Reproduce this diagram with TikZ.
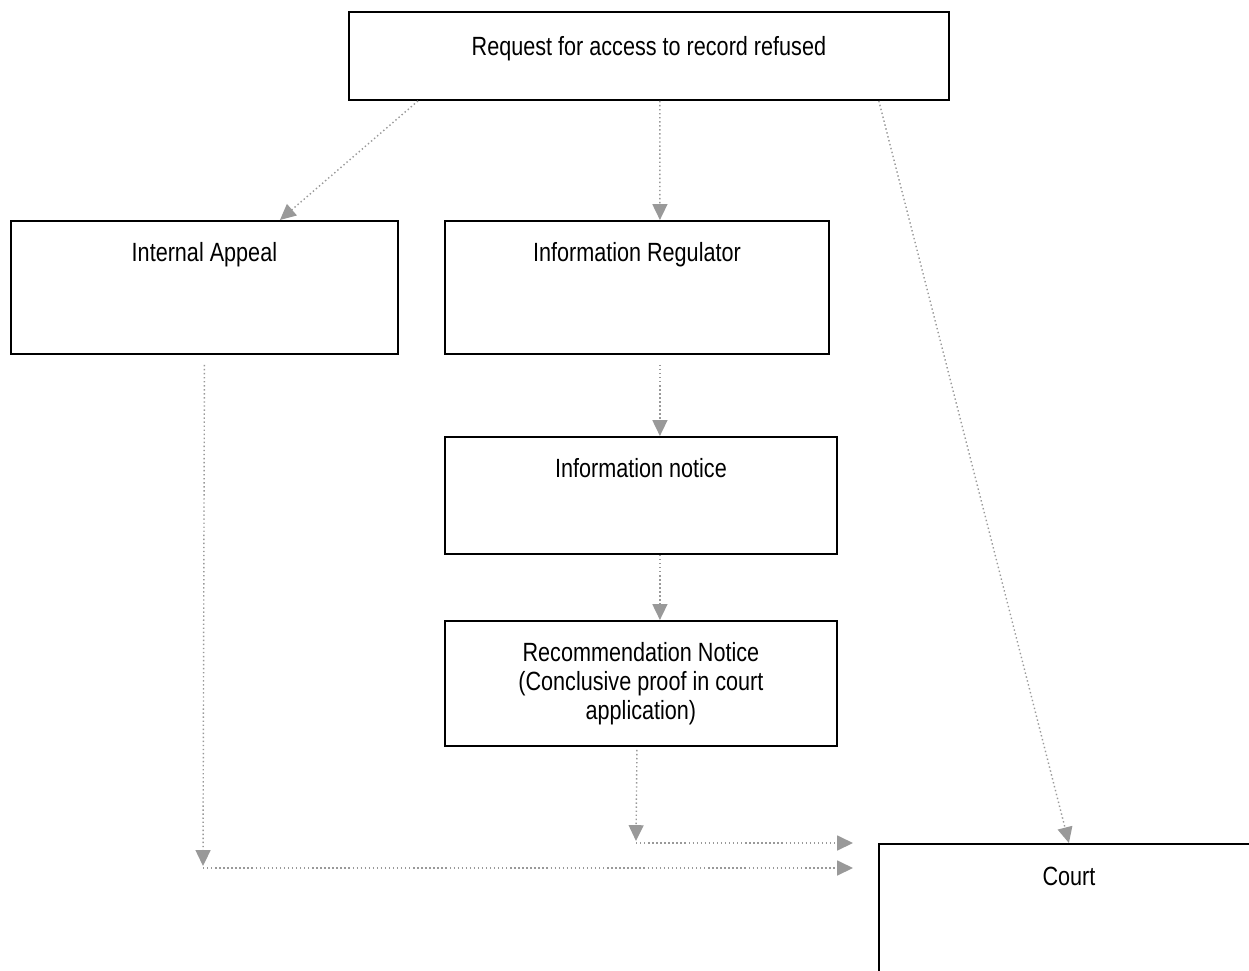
\documentclass[tikz,border=0pt]{standalone}
\usepackage{fontspec}
\setmainfont{Liberation Sans}[FakeStretch=0.82]
\usetikzlibrary{arrows.meta,calc}
\definecolor{LinkClr}{rgb}{0.6,0.6,0.6}

\begin{document}
\begin{tikzpicture}[x=0.02cm,y=-0.02cm,
  box/.style={draw,line width=1.1pt,anchor=north west,inner sep=0pt,font=\fontsize{15}{16.5}\selectfont},
  link/.style={draw=LinkClr,line width=0.8pt,dash pattern=on 0.8pt off 1.5pt,-{Triangle[length=9pt,width=8.5pt]}}]
\useasboundingbox (0,0) rectangle (1249,971);

% boxes
\node[box,minimum width=12cm,text height=0.88cm,text depth=0.88cm] (req) at (348,11) {Request for access to record refused};
\node[box,minimum width=7.74cm,text height=0.82cm,text depth=1.84cm] (ia) at (10,220) {Internal Appeal};
\node[box,minimum width=7.68cm,text height=0.82cm,text depth=1.84cm] (ir) at (444,220) {Information Regulator};
\node[box,minimum width=7.84cm,text height=0.82cm,text depth=1.52cm] (in) at (444,436) {Information notice};
\node[box,minimum width=7.84cm,minimum height=2.5cm,align=center] (rn) at (444,620) {Recommendation Notice\\(Conclusive proof in court\\application)};
\node[box,minimum width=7.6cm,text height=0.84cm,text depth=1.82cm] (court) at (878,843) {Court};

% free ends
\coordinate (iaturn) at (203,868);
\coordinate (iaend) at (853,868);
\coordinate (rnturn) at (636,843);
\coordinate (rnend) at (853,843);

% links
\draw[link] ([xshift=1.4cm]req.south west) -- ([xshift=5.4cm]ia.north west);
\draw[link] ([xshift=0.22cm]req.south) -- ([xshift=0.46cm]ir.north);
\draw[link] ([xshift=-1.42cm]req.south east) -- (court.north);
\draw[link] ([xshift=0.46cm,yshift=-0.2cm]ir.south) -- ([xshift=0.38cm]in.north);
\draw[link] ([xshift=0.38cm]in.south) -- ([xshift=0.38cm]rn.north);
\draw[link] ([yshift=-0.2cm]ia.south) -- ([yshift=0.04cm]iaturn);
\draw[link] (iaturn) -- (iaend);
\draw[link] ([xshift=-0.08cm,yshift=-0.06cm]rn.south) -- ([yshift=0.04cm]rnturn);
\draw[link] (rnturn) -- (rnend);

\end{tikzpicture}
\end{document}
